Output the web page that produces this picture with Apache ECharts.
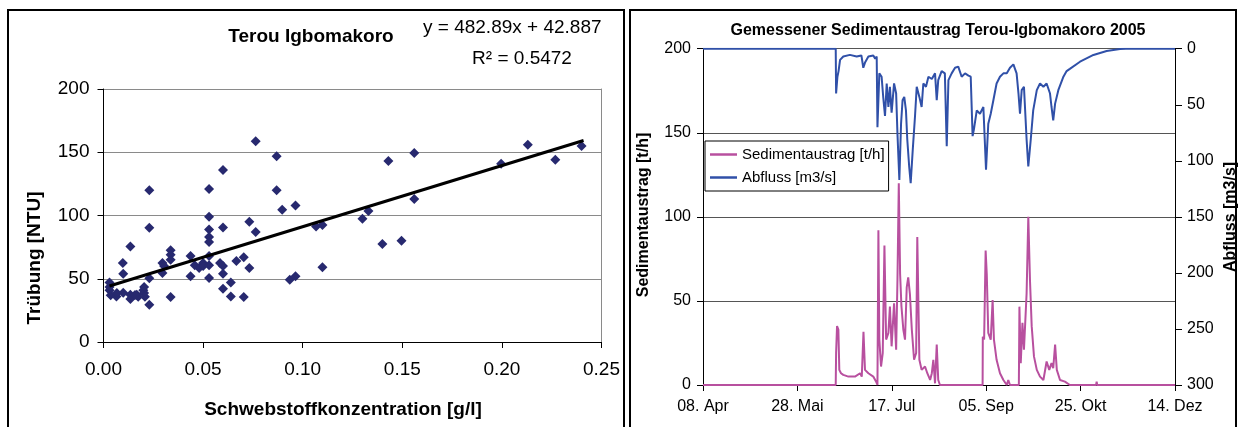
<!DOCTYPE html>
<html>
<head>
<meta charset="utf-8">
<title>Terou Igbomakoro</title>
<script src="https://cdn.jsdelivr.net/npm/echarts@6/dist/echarts.min.js"></script>
<style>
html,body{margin:0;padding:0;background:#fff;}
#main{width:1240px;height:427px;}
</style>
</head>
<body>
<div id="main"></div>
<script>
// links: Schwebstoffkonzentration [g/l] gegen Trübung [NTU]
let konz = [0.003,0.003,0.003,0.0036,0.0065,0.0067,0.0099,0.0097,0.0099,0.0135,0.0135,0.0135,0.0167,0.020,0.0204,0.0204,
  0.023,0.023,0.023,0.023,0.0296,0.0296,0.0304,0.0337,0.0337,0.0337,0.0337,0.0437,0.0437,0.0458,0.048,0.050,0.050,
  0.053,0.053,0.053,0.053,0.053,0.053,0.053,0.053,0.060,0.060,0.0585,0.060,0.060,0.060,0.0639,0.0639,0.0667,0.0704,
  0.0704,0.0732,0.0732,0.0764,0.0764,0.0869,0.0869,0.0897,0.0935,0.0964,0.0964,0.1067,0.1099,0.1099,0.130,0.133,
  0.140,0.143,0.1496,0.156,0.156,0.1996,0.213,0.2268,0.240,0.0174,0.0208,0.0158];
let truebung = [47,43.5,41,37,36,38.7,39,62.5,54,75.4,37.4,34,37.4,41,38.7,43.5,
  120,90.4,50.3,29.5,62.5,54.5,60,72.5,69,65,35.6,68,52,60.6,58.5,62.5,60,
  121,99,89,83,79,68,60.6,50.6,136,90.6,62.5,60,54,42,47,36,64,67,
  35.6,95,58.5,158.6,87,146.8,120,104.6,49.3,108,52,91.4,92.5,59,97.5,103.6,
  77.5,143,80,149.4,113,141,156,144,155,35.8,35.8,37.2];
// Trendlinie (Excel)
let gleichung = 'y = 482.89x + 42.887';
let bestimmtheit = 'R\u00b2 = 0.5472';
let trendX = [0.003, 0.241];
let trendY = [44.3, 159.3];

// rechts: Tage ab 08.04.2005
let datumLabels = ['08. Apr','28. Mai','17. Jul','05. Sep','25. Okt','14. Dez'];
let sedTage = [0,70.3,70.5,71.0,71.7,72.2,73.1,74.3,77.0,80.5,83.2,84.1,85.0,85.8,87.6,90.2,91.7,92.4,92.9,93.4,94.3,
  95.2,96.1,97.0,98.2,99.0,99.9,101.2,102.3,103.0,103.7,104.4,105.1,106.1,107.0,107.9,108.7,109.6,110.6,111.8,112.9,
  113.5,114.6,115.8,117.6,118.8,120.3,121.2,122.0,122.9,123.8,124.6,125.5,148.1,148.2,148.9,149.7,150.3,151.1,152.4,
  153.4,154.1,155.5,157.3,159.1,160.9,161.7,162.6,167.3,167.6,168.3,169.2,170.0,171.4,172.3,173.2,174.1,175.3,176.8,
  178.5,180.3,182.0,183.4,184.6,185.5,186.5,187.4,189.1,191.7,194.3,208.2,208.5,208.8,250];
let sedWerte = [0,0,19,35,33,9,7,6,5,5,7,5,31.7,9,7,5,2,0,92,27,11,
  19,83,27,31,46.6,23,48.6,21,62.6,120,66,47,33,27,58,64,54,33,15,19,
  88,15,9,11,7,3,7,15,1,24,3,0,0,28.7,27,80,66,31,27,
  50.5,27,15,7,3,0,3,0,0,46.6,13,37,21,54.5,100,62,35,17,9,
  5,3,14,9,13,10,24,9,3,2,0,0,2,0,0];
let abflussTage = [0,70.3,70.5,71.2,71.8,72.6,74.3,77.8,81.4,83.9,84.9,85.9,87.6,90.2,91.2,92.0,92.4,93.4,94.6,95.5,
  96.4,97.3,98.2,99.0,99.9,101.2,102.3,103.0,104.0,104.9,105.7,106.6,107.5,108.2,109.2,110.0,111.1,112.3,113.2,114.6,
  115.8,116.7,118.1,119.4,121.2,122.9,123.8,124.6,126.4,128.1,129.1,130.0,131.7,133.5,135.2,137.0,138.8,140.6,141.8,
  142.8,143.5,145.0,146.7,148.5,149.9,151.1,152.4,153.8,155.5,157.3,159.1,160.9,162.6,164.4,166.1,167.1,167.9,168.8,
  170.0,171.4,172.3,173.6,174.9,176.8,178.5,180.3,182.0,183.8,184.6,185.5,186.5,188.2,190.9,192.6,194.3,199.7,206.8,
  213.8,220.9,224,250];
let abflussWerte = [0,0,40,25,20,10,7,5.5,7,6,17,12,7,6,9,7,70,22,25,44,
  60,31,52,34,57,31,40,76,117,67,46,43,55,81,105,120,90,60,34,43,
  52,31,34,25,27,22,46,28,20,22,87,28,22,17,16,25,22,24,25,
  78,72,55,58,52,108,67,58,46,31,25,22,22,17,14,22,40,58,37,
  34,81,105,81,55,37,31,34,31,40,52,64,49,37,25,20,18,11.6,5.6,
  2,0.3,0,0];

let schrift = 'Liberation Sans, Arial, sans-serif';

function paare(a, b){
  let arr = [];
  for(let i = 0; i < a.length; i++){ arr.push([a[i], b[i]]); }
  return arr;
}

function textEl(txt, x, y, size, bold, rot, align){
  return {
    type: 'text', x: x, y: y, rotation: rot || 0,
    style: {
      text: txt, x: 0, y: 0, fill: '#000',
      font: (bold ? 'bold ' : '') + size + 'px ' + schrift,
      textAlign: align || 'center', textVerticalAlign: 'middle'
    }
  };
}

let myChart = echarts.init(document.getElementById('main'));

myChart.setOption({
  animation: false,
  textStyle: { fontFamily: schrift },
  grid: [
    { left: 103.5, top: 89, width: 498, height: 253, outerBoundsMode: 'none' },
    { left: 703, top: 48.7, width: 472, height: 336.3, outerBoundsMode: 'none' }
  ],
  xAxis: [
    {
      gridIndex: 0, type: 'value', min: 0, max: 0.25, interval: 0.05,
      axisLine: { onZero: false, lineStyle: { color: '#000', width: 1 } },
      axisTick: { show: true, length: 6, lineStyle: { color: '#000' } },
      axisLabel: { fontSize: 19, color: '#000', margin: 18, formatter: function(v){ return v.toFixed(2); } },
      splitLine: { show: false }
    },
    {
      gridIndex: 1, type: 'value', min: 0, max: 250, interval: 50,
      axisLine: { onZero: false, lineStyle: { color: '#000', width: 1 } },
      axisTick: { show: true, length: 6, lineStyle: { color: '#000' } },
      axisLabel: { fontSize: 16, color: '#000', margin: 14, formatter: function(v){ return datumLabels[Math.round(v / 50)]; } },
      splitLine: { show: false }
    }
  ],
  yAxis: [
    {
      gridIndex: 0, type: 'value', min: 0, max: 200, interval: 50,
      axisLine: { show: true, lineStyle: { color: '#000', width: 1 } },
      axisTick: { show: true, length: 6, lineStyle: { color: '#000' } },
      axisLabel: { fontSize: 19, color: '#000', margin: 14 },
      splitLine: { show: true, lineStyle: { color: '#8a8a8a', width: 1 } }
    },
    {
      // rechter Rahmen der Plotfläche
      gridIndex: 0, type: 'value', min: 0, max: 200, position: 'right',
      axisLine: { show: true, lineStyle: { color: '#8a8a8a', width: 1 } },
      axisTick: { show: false }, axisLabel: { show: false }, splitLine: { show: false }
    },
    {
      gridIndex: 1, type: 'value', min: 0, max: 200, interval: 50,
      axisLine: { show: true, lineStyle: { color: '#000', width: 1 } },
      axisTick: { show: true, length: 6, lineStyle: { color: '#000' } },
      axisLabel: { fontSize: 16, color: '#000', margin: 12 },
      splitLine: { show: true, lineStyle: { color: '#555', width: 1 } }
    },
    {
      gridIndex: 1, type: 'value', min: 0, max: 300, interval: 50, inverse: true, position: 'right',
      axisLine: { show: true, lineStyle: { color: '#000', width: 1 } },
      axisTick: { show: true, length: 7, lineStyle: { color: '#000' } },
      axisLabel: { fontSize: 16, color: '#000', margin: 12 },
      splitLine: { show: false }
    }
  ],
  legend: {
    left: 705, top: 141, orient: 'vertical',
    data: ['Sedimentaustrag [t/h]', 'Abfluss [m3/s]'],
    icon: 'rect', itemWidth: 27, itemHeight: 2.5,
    backgroundColor: '#fff', borderColor: '#000', borderWidth: 1, borderRadius: 0,
    padding: [6, 4, 6, 5], itemGap: 8,
    textStyle: { fontSize: 15, color: '#000', fontFamily: schrift }
  },
  series: [
    {
      name: 'Messwerte', type: 'scatter', xAxisIndex: 0, yAxisIndex: 0,
      symbol: 'diamond', symbolSize: 10,
      itemStyle: { color: '#27296f', opacity: 1 },
      data: paare(konz, truebung)
    },
    {
      name: 'Trend', type: 'line', xAxisIndex: 0, yAxisIndex: 0,
      symbol: 'none', lineStyle: { color: '#000', width: 3 },
      data: paare(trendX, trendY)
    },
    {
      name: 'Sedimentaustrag [t/h]', type: 'line', xAxisIndex: 1, yAxisIndex: 2,
      symbol: 'none', lineStyle: { color: '#b8509f', width: 2 }, itemStyle: { color: '#b8509f' },
      data: paare(sedTage, sedWerte)
    },
    {
      name: 'Abfluss [m3/s]', type: 'line', xAxisIndex: 1, yAxisIndex: 3,
      symbol: 'none', lineStyle: { color: '#3050a8', width: 2 }, itemStyle: { color: '#3050a8' },
      data: paare(abflussTage, abflussWerte)
    }
  ],
  graphic: [
    { type: 'rect', shape: { x: 8, y: 10, width: 616, height: 430 }, style: { fill: 'none', stroke: '#000', lineWidth: 2 } },
    { type: 'rect', shape: { x: 630, y: 10, width: 606, height: 430 }, style: { fill: 'none', stroke: '#000', lineWidth: 2 } },
    textEl('Terou Igbomakoro', 311, 37, 19, true),
    textEl(gleichung, 423, 28, 19, false, 0, 'left'),
    textEl(bestimmtheit, 522, 59, 19, false),
    textEl('Trübung [NTU]', 35, 258, 19, true, Math.PI / 2),
    textEl('Schwebstoffkonzentration [g/l]', 343, 410, 19, true),
    textEl('Gemessener Sedimentaustrag Terou-Igbomakoro 2005', 938, 31, 16, true),
    textEl('Sedimentaustrag [t/h]', 644, 215, 16, true, Math.PI / 2),
    textEl('Abfluss [m3/s]', 1231, 217, 16, true, Math.PI / 2)
  ]
});
</script>
</body>
</html>
